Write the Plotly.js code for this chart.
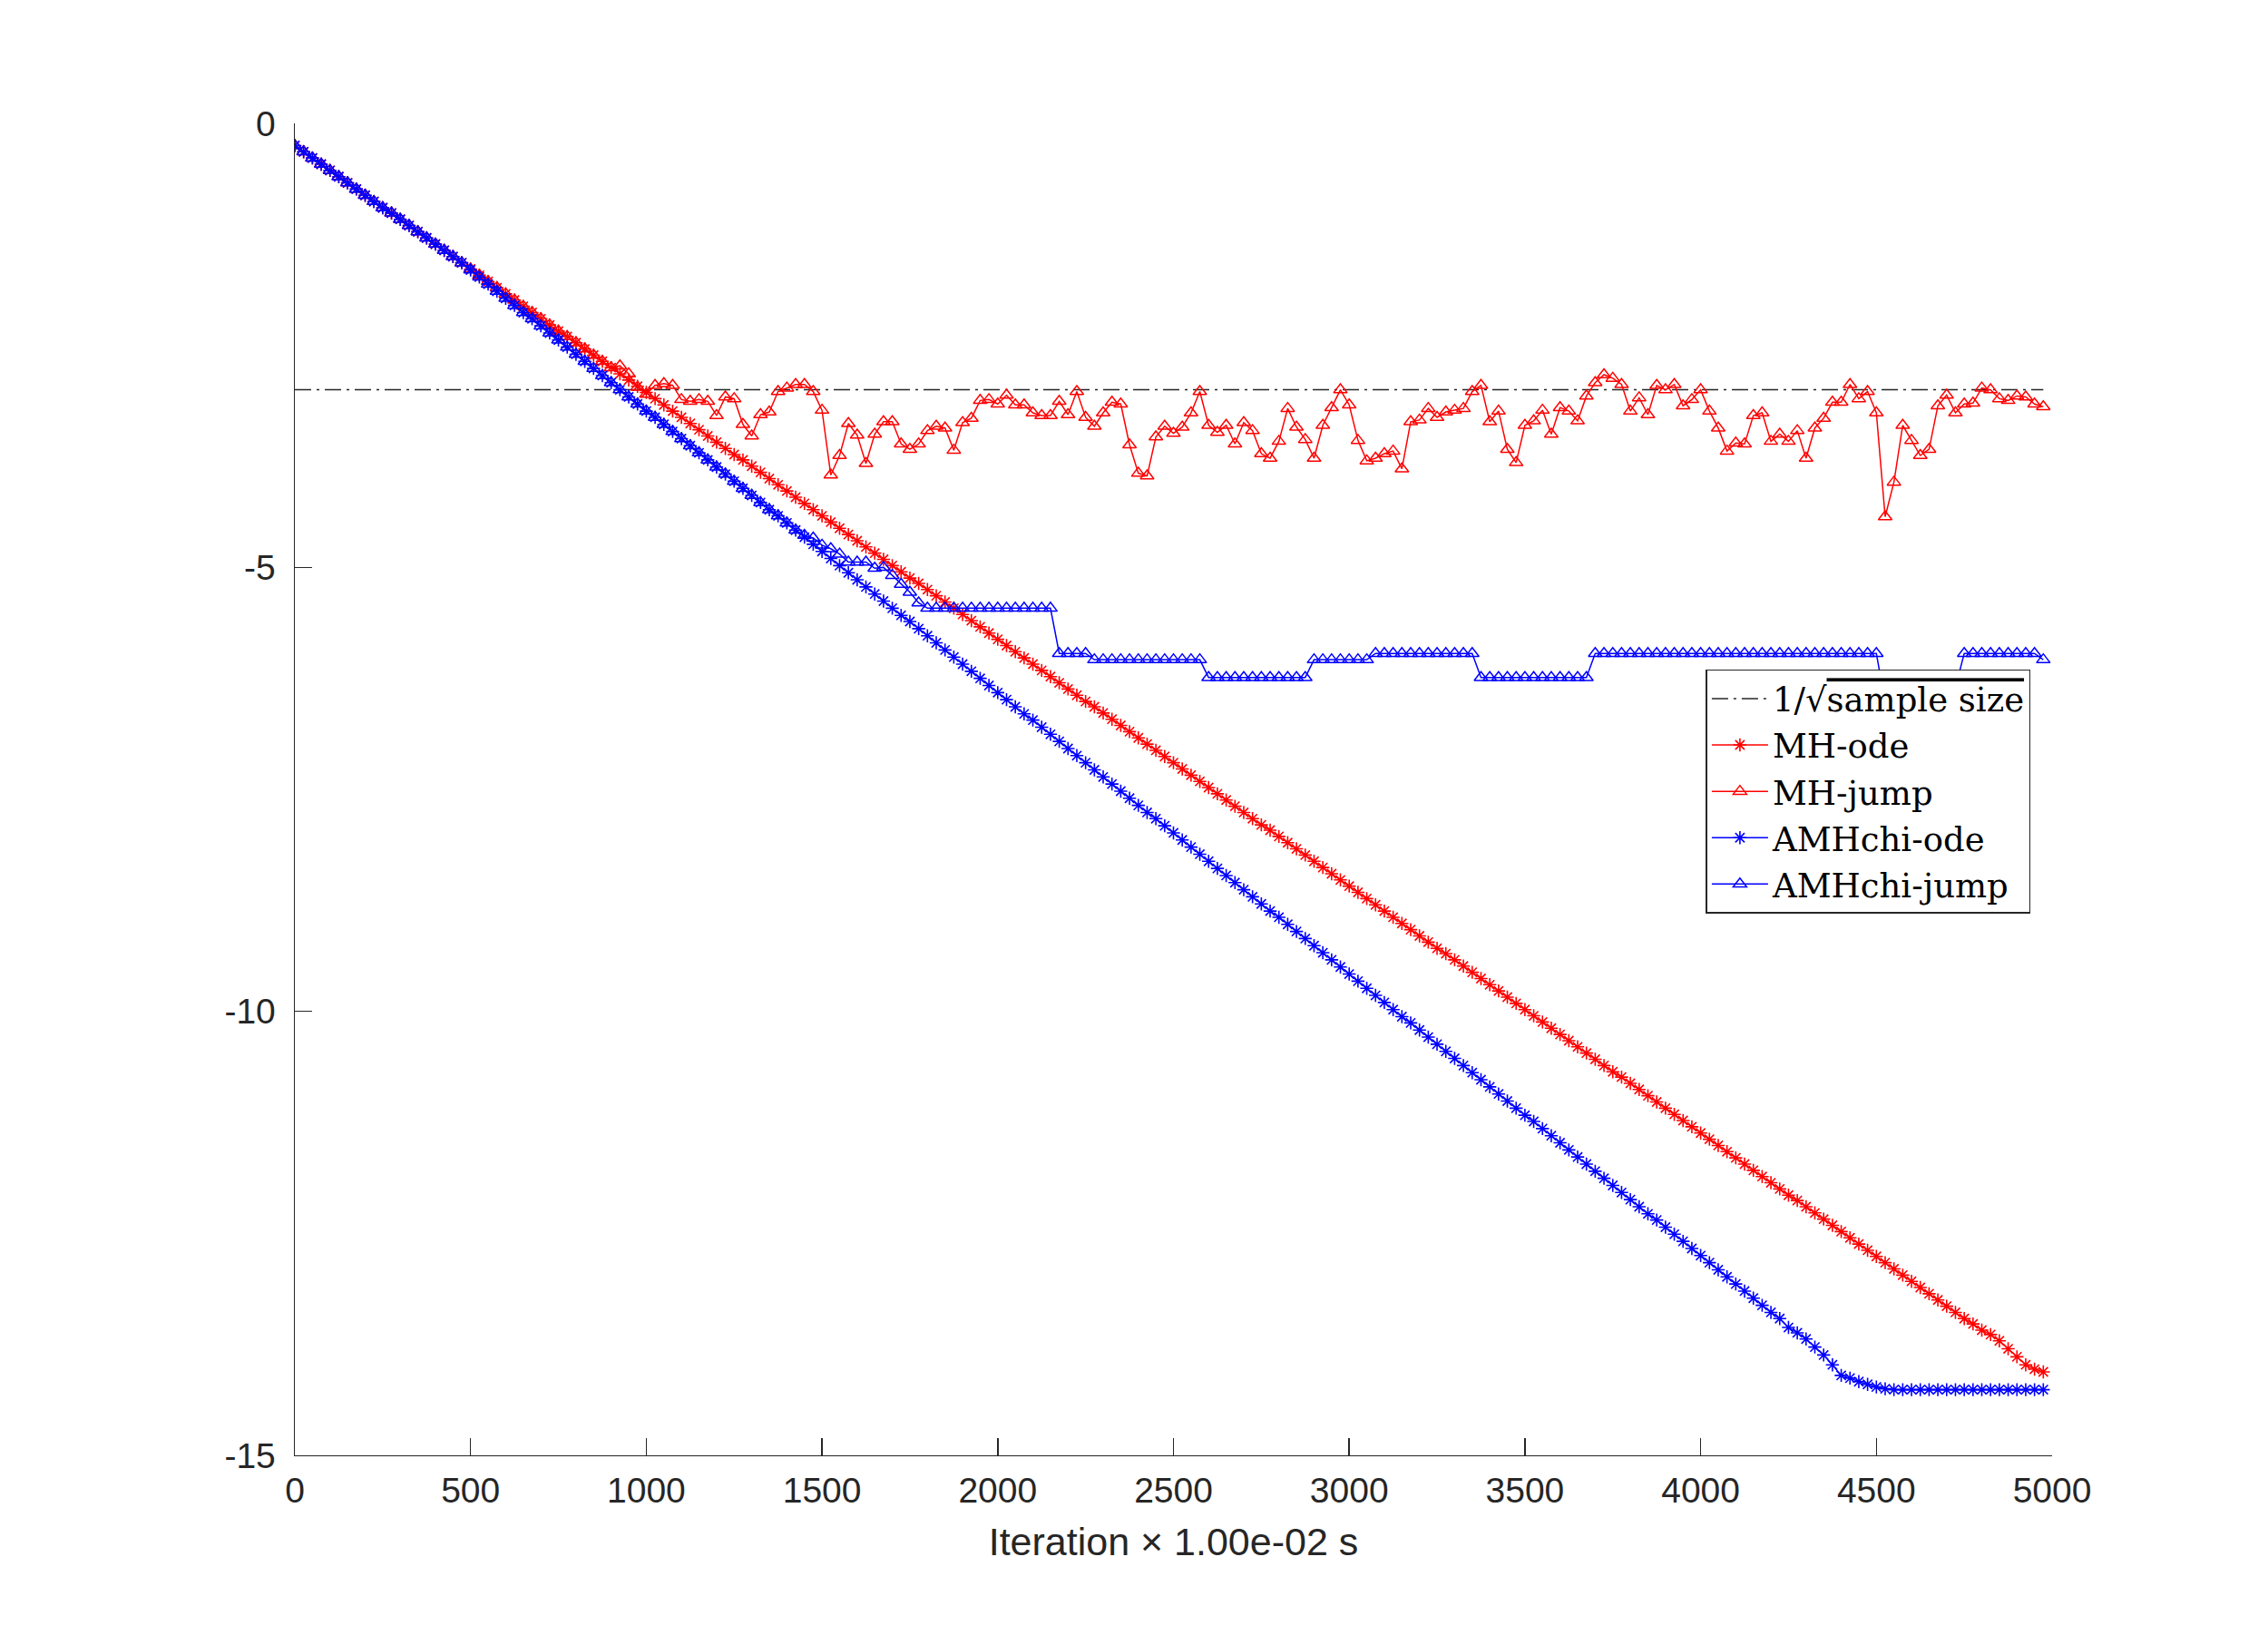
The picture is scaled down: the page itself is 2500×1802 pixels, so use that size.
<!DOCTYPE html>
<html>
<head>
<meta charset="utf-8">
<script src="https://cdn.plot.ly/plotly-3.0.1.min.js"></script>
<style>html,body{margin:0;padding:0;background:#fff;}#chart{width:2500px;height:1802px;}</style>
</head>
<body>
<div id="chart"></div>
<script>
// Iteration grid (every 25 iterations)
const iteration = [
0,25,50,75,100,125,150,175,200,225,250,275,300,325,350,375,400,425,450,475,
500,525,550,575,600,625,650,675,700,725,750,775,800,825,850,875,900,925,950,975,
1000,1025,1050,1075,1100,1125,1150,1175,1200,1225,1250,1275,1300,1325,1350,1375,1400,1425,1450,1475,
1500,1525,1550,1575,1600,1625,1650,1675,1700,1725,1750,1775,1800,1825,1850,1875,1900,1925,1950,1975,
2000,2025,2050,2075,2100,2125,2150,2175,2200,2225,2250,2275,2300,2325,2350,2375,2400,2425,2450,2475,
2500,2525,2550,2575,2600,2625,2650,2675,2700,2725,2750,2775,2800,2825,2850,2875,2900,2925,2950,2975,
3000,3025,3050,3075,3100,3125,3150,3175,3200,3225,3250,3275,3300,3325,3350,3375,3400,3425,3450,3475,
3500,3525,3550,3575,3600,3625,3650,3675,3700,3725,3750,3775,3800,3825,3850,3875,3900,3925,3950,3975,
4000,4025,4050,4075,4100,4125,4150,4175,4200,4225,4250,4275,4300,4325,4350,4375,4400,4425,4450,4475,
4500,4525,4550,4575,4600,4625,4650,4675,4700,4725,4750,4775,4800,4825,4850,4875,4900,4925,4950,4975
];

const refX = [0, 4975];
const refY = [-3, -3];

const mhOde = [
-0.25,-0.32,-0.39,-0.46,-0.53,-0.60,-0.67,-0.74,-0.81,-0.88,
-0.95,-1.01,-1.08,-1.15,-1.22,-1.29,-1.36,-1.43,-1.50,-1.57,
-1.64,-1.71,-1.78,-1.85,-1.92,-1.99,-2.06,-2.13,-2.20,-2.27,
-2.34,-2.40,-2.47,-2.54,-2.61,-2.68,-2.75,-2.82,-2.89,-2.96,
-3.03,-3.10,-3.17,-3.24,-3.31,-3.38,-3.45,-3.52,-3.59,-3.66,
-3.73,-3.79,-3.86,-3.93,-4.00,-4.07,-4.14,-4.21,-4.28,-4.35,
-4.42,-4.49,-4.56,-4.63,-4.70,-4.77,-4.84,-4.91,-4.98,-5.05,
-5.12,-5.18,-5.25,-5.32,-5.39,-5.46,-5.53,-5.60,-5.67,-5.74,
-5.81,-5.88,-5.95,-6.02,-6.09,-6.16,-6.23,-6.30,-6.37,-6.44,
-6.51,-6.57,-6.64,-6.71,-6.78,-6.85,-6.92,-6.99,-7.06,-7.13,
-7.20,-7.27,-7.34,-7.41,-7.48,-7.55,-7.62,-7.69,-7.76,-7.83,
-7.90,-7.96,-8.03,-8.10,-8.17,-8.24,-8.31,-8.38,-8.45,-8.52,
-8.59,-8.66,-8.73,-8.80,-8.87,-8.94,-9.01,-9.08,-9.15,-9.22,
-9.29,-9.35,-9.42,-9.49,-9.56,-9.63,-9.70,-9.77,-9.84,-9.91,
-9.98,-10.05,-10.12,-10.19,-10.26,-10.33,-10.40,-10.47,-10.54,-10.61,
-10.68,-10.74,-10.81,-10.88,-10.95,-11.02,-11.09,-11.16,-11.23,-11.30,
-11.37,-11.44,-11.51,-11.58,-11.65,-11.72,-11.79,-11.86,-11.93,-12.00,
-12.07,-12.13,-12.20,-12.27,-12.34,-12.41,-12.48,-12.55,-12.62,-12.69,
-12.76,-12.83,-12.90,-12.97,-13.04,-13.11,-13.18,-13.25,-13.32,-13.39,
-13.46,-13.52,-13.59,-13.64,-13.71,-13.80,-13.89,-13.98,-14.03,-14.06
];

const mhJump = [
-0.25,-0.32,-0.39,-0.46,-0.53,-0.60,-0.67,-0.74,-0.81,-0.88,
-0.95,-1.01,-1.08,-1.15,-1.22,-1.29,-1.36,-1.43,-1.50,-1.57,
-1.64,-1.71,-1.78,-1.85,-1.92,-1.99,-2.06,-2.13,-2.20,-2.27,
-2.34,-2.40,-2.47,-2.54,-2.61,-2.68,-2.75,-2.73,-2.82,-2.97,
-3.05,-2.95,-2.93,-2.95,-3.11,-3.13,-3.11,-3.13,-3.29,-3.08,
-3.10,-3.39,-3.52,-3.28,-3.25,-3.02,-2.98,-2.94,-2.94,-3.02,
-3.23,-3.96,-3.74,-3.38,-3.51,-3.83,-3.50,-3.36,-3.36,-3.61,
-3.67,-3.61,-3.46,-3.41,-3.43,-3.68,-3.37,-3.32,-3.12,-3.11,
-3.16,-3.06,-3.17,-3.17,-3.26,-3.29,-3.29,-3.13,-3.28,-3.02,
-3.31,-3.41,-3.26,-3.14,-3.16,-3.62,-3.94,-3.97,-3.53,-3.41,
-3.49,-3.42,-3.26,-3.02,-3.40,-3.48,-3.40,-3.61,-3.37,-3.46,
-3.72,-3.77,-3.58,-3.21,-3.42,-3.56,-3.77,-3.40,-3.20,-3.00,
-3.17,-3.57,-3.80,-3.77,-3.72,-3.69,-3.89,-3.36,-3.34,-3.21,
-3.31,-3.25,-3.23,-3.21,-3.02,-2.95,-3.36,-3.24,-3.67,-3.82,
-3.40,-3.35,-3.23,-3.50,-3.20,-3.24,-3.35,-3.07,-2.92,-2.83,
-2.87,-2.94,-3.24,-3.09,-3.28,-2.95,-3.00,-2.94,-3.18,-3.11,
-3.00,-3.24,-3.43,-3.69,-3.60,-3.61,-3.29,-3.26,-3.58,-3.50,
-3.58,-3.46,-3.77,-3.43,-3.32,-3.14,-3.14,-2.94,-3.10,-3.02,
-3.26,-4.43,-4.04,-3.40,-3.57,-3.74,-3.67,-3.18,-3.06,-3.26,
-3.16,-3.15,-2.98,-3.00,-3.10,-3.12,-3.07,-3.08,-3.16,-3.19
];

const amhOde = [
-0.25,-0.32,-0.39,-0.46,-0.53,-0.60,-0.67,-0.74,-0.81,-0.88,
-0.95,-1.01,-1.08,-1.15,-1.22,-1.29,-1.36,-1.43,-1.50,-1.57,
-1.65,-1.73,-1.81,-1.89,-1.97,-2.05,-2.13,-2.20,-2.28,-2.36,
-2.44,-2.52,-2.60,-2.68,-2.76,-2.84,-2.92,-3.00,-3.08,-3.16,
-3.24,-3.31,-3.39,-3.47,-3.55,-3.63,-3.71,-3.79,-3.87,-3.95,
-4.03,-4.11,-4.19,-4.27,-4.35,-4.42,-4.50,-4.58,-4.66,-4.74,
-4.82,-4.90,-4.98,-5.06,-5.14,-5.22,-5.30,-5.38,-5.46,-5.54,
-5.61,-5.69,-5.77,-5.85,-5.93,-6.01,-6.09,-6.17,-6.25,-6.33,
-6.41,-6.49,-6.57,-6.65,-6.72,-6.80,-6.88,-6.96,-7.04,-7.12,
-7.20,-7.28,-7.36,-7.44,-7.52,-7.60,-7.68,-7.76,-7.83,-7.91,
-7.99,-8.07,-8.15,-8.23,-8.31,-8.39,-8.47,-8.55,-8.63,-8.71,
-8.79,-8.87,-8.94,-9.02,-9.10,-9.18,-9.26,-9.34,-9.42,-9.50,
-9.58,-9.66,-9.74,-9.82,-9.90,-9.98,-10.06,-10.13,-10.21,-10.29,
-10.37,-10.45,-10.53,-10.61,-10.69,-10.77,-10.85,-10.93,-11.01,-11.09,
-11.17,-11.24,-11.32,-11.40,-11.48,-11.56,-11.64,-11.72,-11.80,-11.88,
-11.96,-12.04,-12.12,-12.20,-12.28,-12.35,-12.43,-12.51,-12.59,-12.67,
-12.75,-12.83,-12.91,-12.99,-13.07,-13.15,-13.23,-13.31,-13.39,-13.46,
-13.56,-13.62,-13.69,-13.78,-13.87,-13.98,-14.10,-14.13,-14.17,-14.20,
-14.23,-14.25,-14.26,-14.26,-14.26,-14.26,-14.26,-14.26,-14.26,-14.26,
-14.26,-14.26,-14.26,-14.26,-14.26,-14.26,-14.26,-14.26,-14.26,-14.26
];

const amhJump = [
-0.25,-0.32,-0.39,-0.46,-0.53,-0.60,-0.67,-0.74,-0.81,-0.88,
-0.95,-1.01,-1.08,-1.15,-1.22,-1.29,-1.36,-1.43,-1.50,-1.57,
-1.65,-1.73,-1.81,-1.89,-1.97,-2.05,-2.13,-2.20,-2.28,-2.36,
-2.44,-2.52,-2.60,-2.68,-2.76,-2.84,-2.92,-3.00,-3.08,-3.16,
-3.24,-3.31,-3.39,-3.47,-3.55,-3.63,-3.71,-3.79,-3.87,-3.95,
-4.03,-4.11,-4.19,-4.27,-4.35,-4.42,-4.50,-4.58,-4.64,-4.67,
-4.75,-4.79,-4.85,-4.94,-4.94,-4.94,-5.01,-5.00,-5.09,-5.19,
-5.28,-5.40,-5.46,-5.46,-5.46,-5.46,-5.46,-5.46,-5.46,-5.46,
-5.46,-5.46,-5.46,-5.46,-5.46,-5.46,-5.46,-5.97,-5.97,-5.97,
-5.97,-6.04,-6.04,-6.04,-6.04,-6.04,-6.04,-6.04,-6.04,-6.04,
-6.04,-6.04,-6.04,-6.04,-6.24,-6.24,-6.24,-6.24,-6.24,-6.24,
-6.24,-6.24,-6.24,-6.24,-6.24,-6.24,-6.04,-6.04,-6.04,-6.04,
-6.04,-6.04,-6.04,-5.97,-5.97,-5.97,-5.97,-5.97,-5.97,-5.97,
-5.97,-5.97,-5.97,-5.97,-5.97,-6.24,-6.24,-6.24,-6.24,-6.24,
-6.24,-6.24,-6.24,-6.24,-6.24,-6.24,-6.24,-6.24,-5.97,-5.97,
-5.97,-5.97,-5.97,-5.97,-5.97,-5.97,-5.97,-5.97,-5.97,-5.97,
-5.97,-5.97,-5.97,-5.97,-5.97,-5.97,-5.97,-5.97,-5.97,-5.97,
-5.97,-5.97,-5.97,-5.97,-5.97,-5.97,-5.97,-5.97,-5.97,-5.97,
-5.97,-6.52,-6.62,-6.70,-6.74,-6.72,-6.66,-6.58,-6.46,-6.35,
-5.97,-5.97,-5.97,-5.97,-5.97,-5.97,-5.97,-5.97,-5.97,-6.04
];

const seriesNames = ['1/\u221A<span style="text-decoration:overline">sample size</span>', 'MH-ode', 'MH-jump', 'AMHchi-ode', 'AMHchi-jump'];
const xTickVals = [0,500,1000,1500,2000,2500,3000,3500,4000,4500,5000];
const xTickText = ['0','500','1000','1500','2000','2500','3000','3500','4000','4500','5000'];
const yTickVals = [-15,-10,-5,0];
const yTickText = ['-15','-10','-5','0'];
const xTitle = 'Iteration \u00D7 1.00e-02 s';

const RED = '#FF0000', BLUE = '#0000FF';
const LW = 1.5;

const traces = [
  {x: refX, y: refY, name: seriesNames[0], mode: 'lines',
   line: {color: '#262626', width: 1.5, dash: '18px,6px,3px,6px'}},
  {x: iteration, y: mhOde, name: seriesNames[1], mode: 'lines+markers',
   line: {color: RED, width: LW},
   marker: {symbol: 'asterisk-open', size: 12, color: RED, line: {color: RED, width: 1.6}}},
  {x: iteration, y: mhJump, name: seriesNames[2], mode: 'lines+markers',
   line: {color: RED, width: LW},
   marker: {symbol: 'triangle-up-open', size: 13, color: RED, line: {color: RED, width: 1.5}}},
  {x: iteration, y: amhOde, name: seriesNames[3], mode: 'lines+markers',
   line: {color: BLUE, width: LW},
   marker: {symbol: 'asterisk-open', size: 12, color: BLUE, line: {color: BLUE, width: 1.6}}},
  {x: iteration, y: amhJump, name: seriesNames[4], mode: 'lines+markers',
   line: {color: BLUE, width: LW},
   marker: {symbol: 'triangle-up-open', size: 13, color: BLUE, line: {color: BLUE, width: 1.5}}}
];

const axisCommon = {
  showline: true, linecolor: '#262626', linewidth: 1.4,
  ticks: 'inside', ticklen: 19, tickwidth: 1.4, tickcolor: '#262626',
  showgrid: false, zeroline: false, mirror: false,
  tickfont: {family: 'Liberation Sans, Arial, sans-serif', size: 39, color: '#262626'}
};

const layout = {
  width: 2500, height: 1802,
  paper_bgcolor: '#ffffff', plot_bgcolor: '#ffffff',
  margin: {l: 325, r: 238, t: 136, b: 198, pad: 0},
  showlegend: true,
  xaxis: Object.assign({}, axisCommon, {
    range: [0, 5000], tickmode: 'array', tickvals: xTickVals, ticktext: xTickText,
    ticklabelstandoff: 4,
    title: {text: xTitle, font: {family: 'Liberation Sans, Arial, sans-serif', size: 43, color: '#262626'}, standoff: 20}
  }),
  yaxis: Object.assign({}, axisCommon, {
    range: [-15, 0], tickmode: 'array', tickvals: yTickVals, ticktext: yTickText,
    ticklabelstandoff: 12
  }),
  legend: {
    x: 0.803, y: 0.590, xanchor: 'left', yanchor: 'top',
    bgcolor: '#ffffff', bordercolor: '#262626', borderwidth: 1.5,
    font: {family: 'DejaVu Serif, Liberation Serif, serif', size: 37, color: '#000000'},
    itemwidth: 62, tracegroupgap: 0
  }
};

Plotly.newPlot('chart', traces, layout, {staticPlot: true, displayModeBar: false});
</script>
</body>
</html>
